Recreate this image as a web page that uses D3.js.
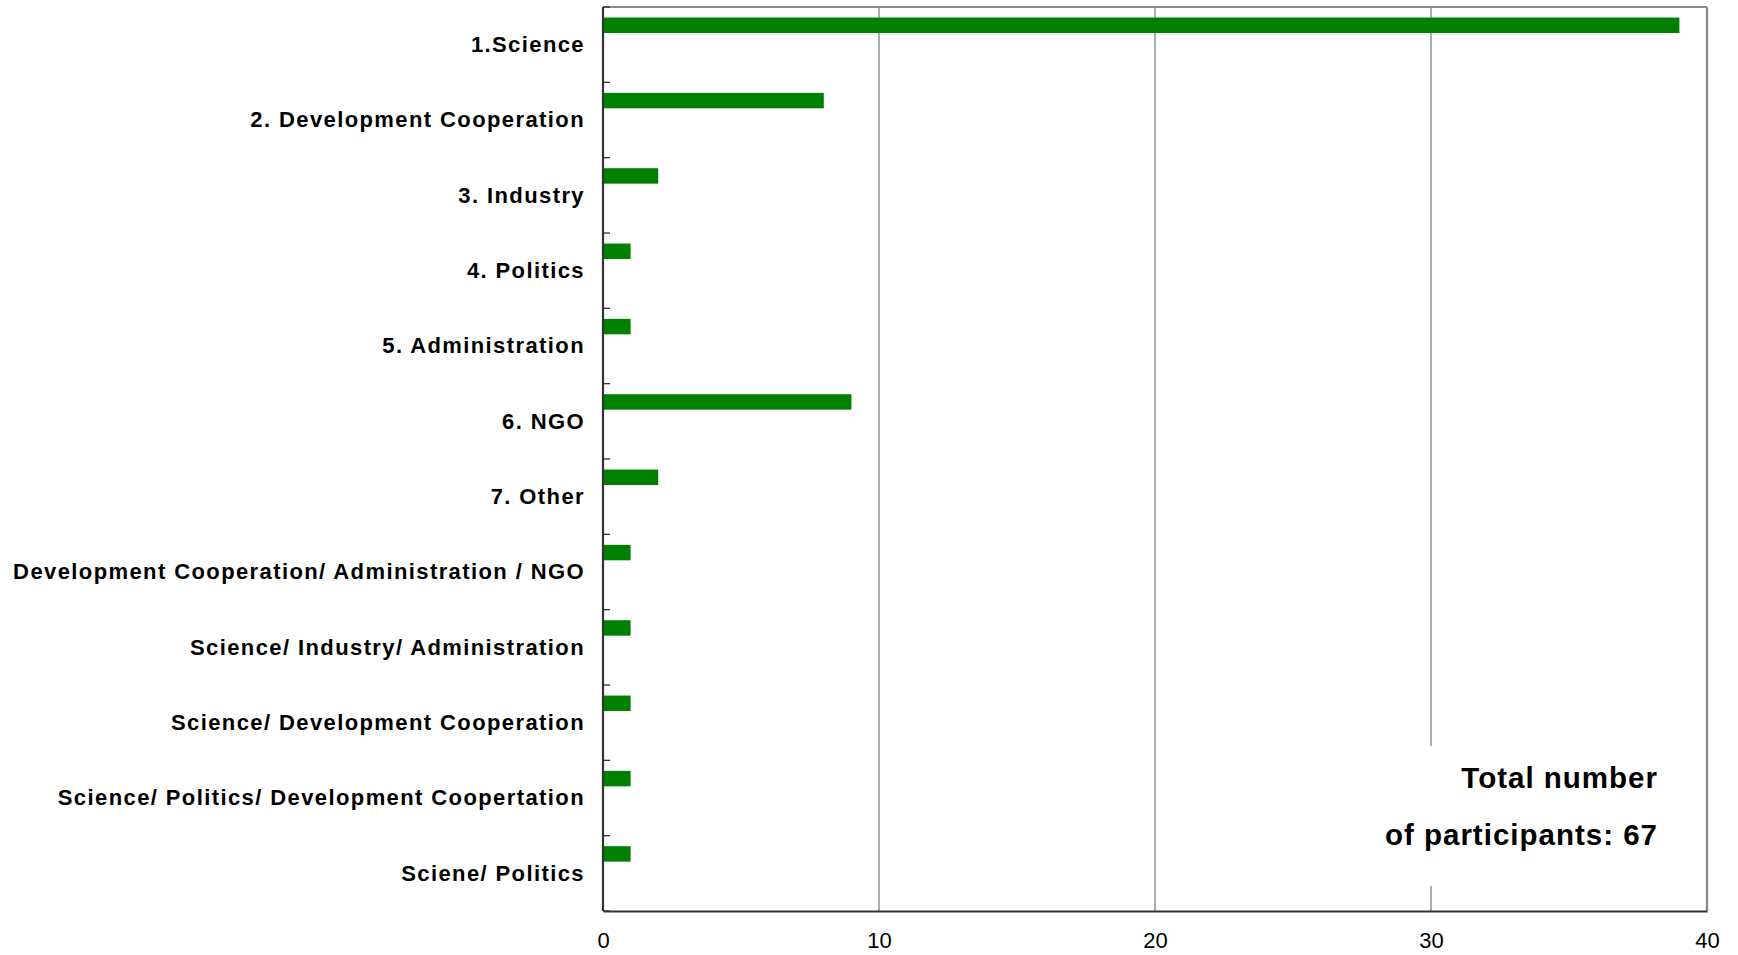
<!DOCTYPE html>
<html>
<head>
<meta charset="utf-8">
<title>Participants by sector</title>
<script src="https://d3js.org/d3.v7.min.js"></script>
<style>
  html, body { margin: 0; padding: 0; background: #fff; overflow: hidden; width: 100%; height: 100%; }
  svg { display: block; width: 100vw; height: 100vh; }
  text { font-family: "Liberation Sans", Arial, sans-serif; }
</style>
</head>
<body>
<svg id="mainsvg" viewBox="0 0 1738 955" preserveAspectRatio="xMidYMin meet"></svg>
<script>
const categories = [
  '1.Science',
  '2. Development Cooperation',
  '3. Industry',
  '4. Politics',
  '5. Administration',
  '6. NGO',
  '7. Other',
  'Development Cooperation/ Administration / NGO',
  'Science/ Industry/ Administration',
  'Science/ Development Cooperation',
  'Science/ Politics/ Development Coopertation',
  'Sciene/ Politics'
];
const values = [39, 8, 2, 1, 1, 9, 2, 1, 1, 1, 1, 1];
const xTicks = [0, 10, 20, 30, 40];
const noteLines = ['Total number', 'of participants: 67'];

const data = categories.map((c, i) => ({name: c, value: values[i]}));

const svg = d3.select('#mainsvg');
const width = 1738;
const height = 955;
const margin = {top: 7, right: 31, bottom: 44, left: 603};
const innerWidth = width - margin.left - margin.right;
const innerHeight = height - margin.top - margin.bottom;

const xScale = d3.scaleLinear().domain([0, 40]).range([0, innerWidth]);
const yScale = d3.scaleBand().domain(categories).range([0, innerHeight]);
const bw = yScale.bandwidth();

const g = svg.append('g')
  .attr('transform', `translate(${margin.left},${margin.top})`);

// vertical gridlines
g.append('g').selectAll('line')
  .data(xTicks.filter(t => t > 0 && t < 40))
  .join('line')
  .attr('x1', d => xScale(d)).attr('x2', d => xScale(d))
  .attr('y1', 0).attr('y2', innerHeight)
  .attr('stroke', '#808080').attr('stroke-width', 1.3);

// top and right frame
g.append('line').attr('x1', 0).attr('x2', innerWidth).attr('y1', 0).attr('y2', 0)
  .attr('stroke', '#888').attr('stroke-width', 2.2);
g.append('line').attr('x1', innerWidth).attr('x2', innerWidth).attr('y1', 0).attr('y2', innerHeight)
  .attr('stroke', '#888').attr('stroke-width', 2.2);

// bars
g.selectAll('rect.bar')
  .data(data)
  .join('rect')
  .attr('class', 'bar')
  .attr('x', 0)
  .attr('y', d => yScale(d.name) + bw * 0.14)
  .attr('width', d => xScale(d.value))
  .attr('height', bw * 0.205)
  .attr('fill', '#008000');

// white box holding the note
const noteRight = xScale(0) + innerWidth - 49;
g.append('rect')
  .attr('x', noteRight - 300).attr('y', 739)
  .attr('width', 310).attr('height', 140)
  .attr('fill', '#fff');

const noteText = g.append('g')
  .attr('font-size', '29.5px').attr('font-weight', 'bold')
  .attr('letter-spacing', '1px').attr('text-anchor', 'end');
noteLines.forEach((t, i) => {
  noteText.append('text')
    .attr('x', noteRight).attr('y', 781 + i * 57)
    .text(t);
});

// y axis ticks at band boundaries (inside)
const bounds = d3.range(categories.length + 1).map(i => i * bw);
g.append('g').selectAll('line')
  .data(bounds)
  .join('line')
  .attr('x1', 0).attr('x2', 7)
  .attr('y1', d => d).attr('y2', d => d)
  .attr('stroke', '#333').attr('stroke-width', 1.3);

// category labels
g.append('g').selectAll('text')
  .data(categories)
  .join('text')
  .attr('x', -18)
  .attr('y', d => yScale(d) + bw / 2)
  .attr('dy', '0.34em')
  .attr('text-anchor', 'end')
  .attr('font-size', '22px')
  .attr('font-weight', 'bold')
  .attr('letter-spacing', '1.4px')
  .attr('fill', '#000')
  .text(d => d);

// left and bottom axis lines
g.append('line').attr('x1', 0).attr('x2', 0).attr('y1', 0).attr('y2', innerHeight)
  .attr('stroke', '#333').attr('stroke-width', 2.2);

const xAxis = d3.axisBottom(xScale).tickValues(xTicks).tickSize(0).tickPadding(21);
const xg = g.append('g').attr('transform', `translate(0,${innerHeight})`).call(xAxis);
xg.select('.domain').attr('stroke', '#333').attr('stroke-width', 2.2);
xg.selectAll('.tick text')
  .attr('font-size', '22px')
  .attr('font-family', '"Liberation Sans", Arial, sans-serif')
  .attr('fill', '#000');
</script>
</body>
</html>
